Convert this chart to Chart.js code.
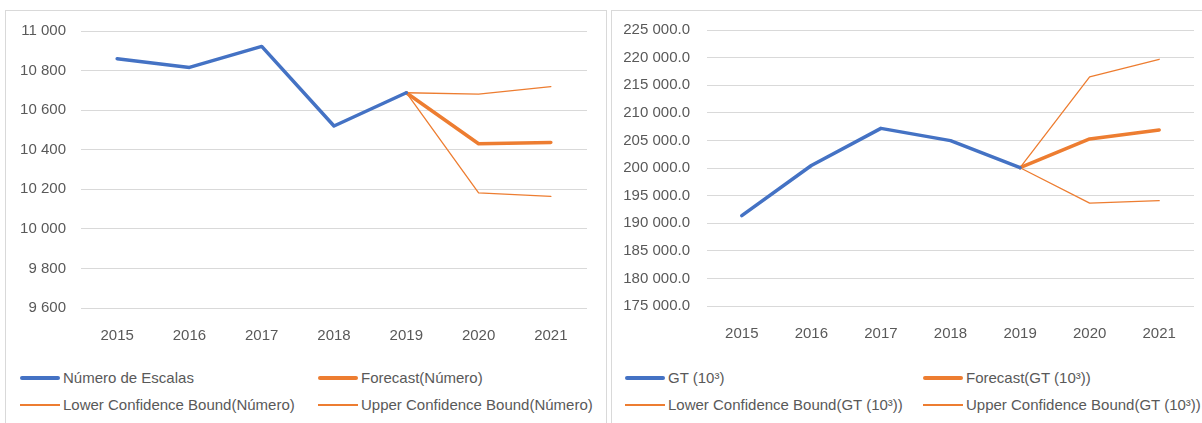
<!DOCTYPE html>
<html>
<head>
<meta charset="utf-8">
<script src="https://cdn.jsdelivr.net/npm/chart.js@4.4.1/dist/chart.umd.min.js"></script>
<style>
  body { margin: 0; width: 1202px; height: 423px; overflow: hidden; background: #fff;
         font-family: "Liberation Sans", Arial, sans-serif; }
  .panel { position: absolute; top: 10px; height: 440px; border: 1px solid #d9d9d9; box-sizing: border-box; }
  canvas { position: absolute; }
  .leg { position: absolute; font-size: 15px; color: #595959; white-space: nowrap; line-height: 18px; }
  .leg span.ln { position: absolute; left: 0; }
</style>
</head>
<body>
<div class="panel" style="left:5px;width:602px"></div>
<div class="panel" style="left:611px;width:600px"></div>
<div id="wrap1" style="position:absolute;left:5px;top:7px;width:601px;height:343px"><canvas id="chart1"></canvas></div>
<div id="wrap2" style="position:absolute;left:611px;top:4px;width:591px;height:346px"><canvas id="chart2"></canvas></div>
<div id="legendas"></div>

<script>
const anos = ['2015', '2016', '2017', '2018', '2019', '2020', '2021'];

// panel izquierdo: número de escalas
const escalas      = [10860, 10816, 10922, 10520, 10688, null, null];
const prevEscalas  = [null, null, null, null, 10688, 10430, 10437];
const infEscalas   = [null, null, null, null, 10688, 10182, 10164];
const supEscalas   = [null, null, null, null, 10688, 10681, 10719];

// panel derecho: GT (10³)
const gt       = [191370, 200450, 207180, 204960, 200050, null, null];
const prevGt   = [null, null, null, null, 200050, 205270, 206900];
const infGt    = [null, null, null, null, 200050, 193650, 194080];
const supGt    = [null, null, null, null, 200050, 216500, 219700];

const azul = '#4472C4';
const naranja = '#ED7D31';
const gris = '#595959';

function formatoEspacio(v, dec) {
    const partes = v.toFixed(dec).split('.');
    partes[0] = partes[0].replace(/\B(?=(\d{3})+(?!\d))/g, ' ');
    return partes.join('.');
}

function crearGrafico(id, series, etiquetas, ejeY) {
    const ctx = document.getElementById(id).getContext('2d');
    return new Chart(ctx, {
        type: 'line',
        data: {
            labels: anos,
            datasets: [
                { label: etiquetas[0], data: series[0], borderColor: azul, borderWidth: 3.5 },
                { label: etiquetas[1], data: series[1], borderColor: naranja, borderWidth: 3.5 },
                { label: etiquetas[2], data: series[2], borderColor: naranja, borderWidth: 1.3 },
                { label: etiquetas[3], data: series[3], borderColor: naranja, borderWidth: 1.3 }
            ]
        },
        options: {
            responsive: true,
            maintainAspectRatio: false,
            animation: false,
            elements: { point: { radius: 0 }, line: { tension: 0, borderCapStyle: 'round', borderJoinStyle: 'round' } },
            layout: { padding: ejeY.padding },
            plugins: { legend: { display: false }, tooltip: { enabled: false } },
            scales: {
                x: {
                    offset: true,
                    grid: { display: false },
                    border: { display: false },
                    ticks: { color: gris, font: { size: 15, family: '"Liberation Sans", Arial' }, padding: 11, maxRotation: 0 },
                    afterFit: s => { s.height = ejeY.altoX; }
                },
                y: {
                    min: ejeY.min,
                    max: ejeY.max,
                    grid: { color: '#d9d9d9', drawTicks: false },
                    border: { display: false },
                    ticks: {
                        stepSize: ejeY.paso,
                        color: gris,
                        padding: ejeY.sep,
                        font: { size: 15, family: '"Liberation Sans", Arial' },
                        callback: v => formatoEspacio(v, ejeY.dec)
                    },
                    afterFit: s => { s.width = ejeY.anchoY; }
                }
            }
        }
    });
}

const c1 = crearGrafico('chart1', [escalas, prevEscalas, infEscalas, supEscalas],
    ['Número de Escalas', 'Forecast(Número)', 'Lower Confidence Bound(Número)', 'Upper Confidence Bound(Número)'],
    { min: 9600, max: 11000, paso: 200, dec: 0, sep: 15, anchoY: 76, altoX: 42,
      padding: { left: 0, right: 19, top: 17, bottom: 0 } });

const c2 = crearGrafico('chart2', [gt, prevGt, infGt, supGt],
    ['GT (10³)', 'Forecast(GT (10³))', 'Lower Confidence Bound(GT (10³))', 'Upper Confidence Bound(GT (10³))'],
    { min: 175000, max: 225000, paso: 5000, dec: 1, sep: 17, anchoY: 96, altoX: 44,
      padding: { left: 0, right: 8, top: 13, bottom: 0 } });

// leyendas en html, dos columnas por panel
function leyenda(chart, base) {
    const cols = [base, base + 298];
    const filas = [378, 405];
    const cont = document.getElementById('legendas');
    chart.data.datasets.forEach((ds, i) => {
        const x = cols[i % 2];
        const y = filas[Math.floor(i / 2)];
        const el = document.createElement('div');
        el.className = 'leg';
        el.style.left = x + 'px';
        el.style.top = (y - 9) + 'px';
        el.style.paddingLeft = '43px';
        const ln = document.createElement('span');
        ln.className = 'ln';
        const h = ds.borderWidth;
        ln.style.width = '40px';
        ln.style.height = h + 'px';
        ln.style.top = (9 - h / 2) + 'px';
        ln.style.background = ds.borderColor;
        ln.style.borderRadius = h > 2 ? '2px' : '0';
        el.appendChild(ln);
        el.appendChild(document.createTextNode(ds.label));
        cont.appendChild(el);
    });
}
leyenda(c1, 20);
leyenda(c2, 625);
</script>
</body>
</html>
